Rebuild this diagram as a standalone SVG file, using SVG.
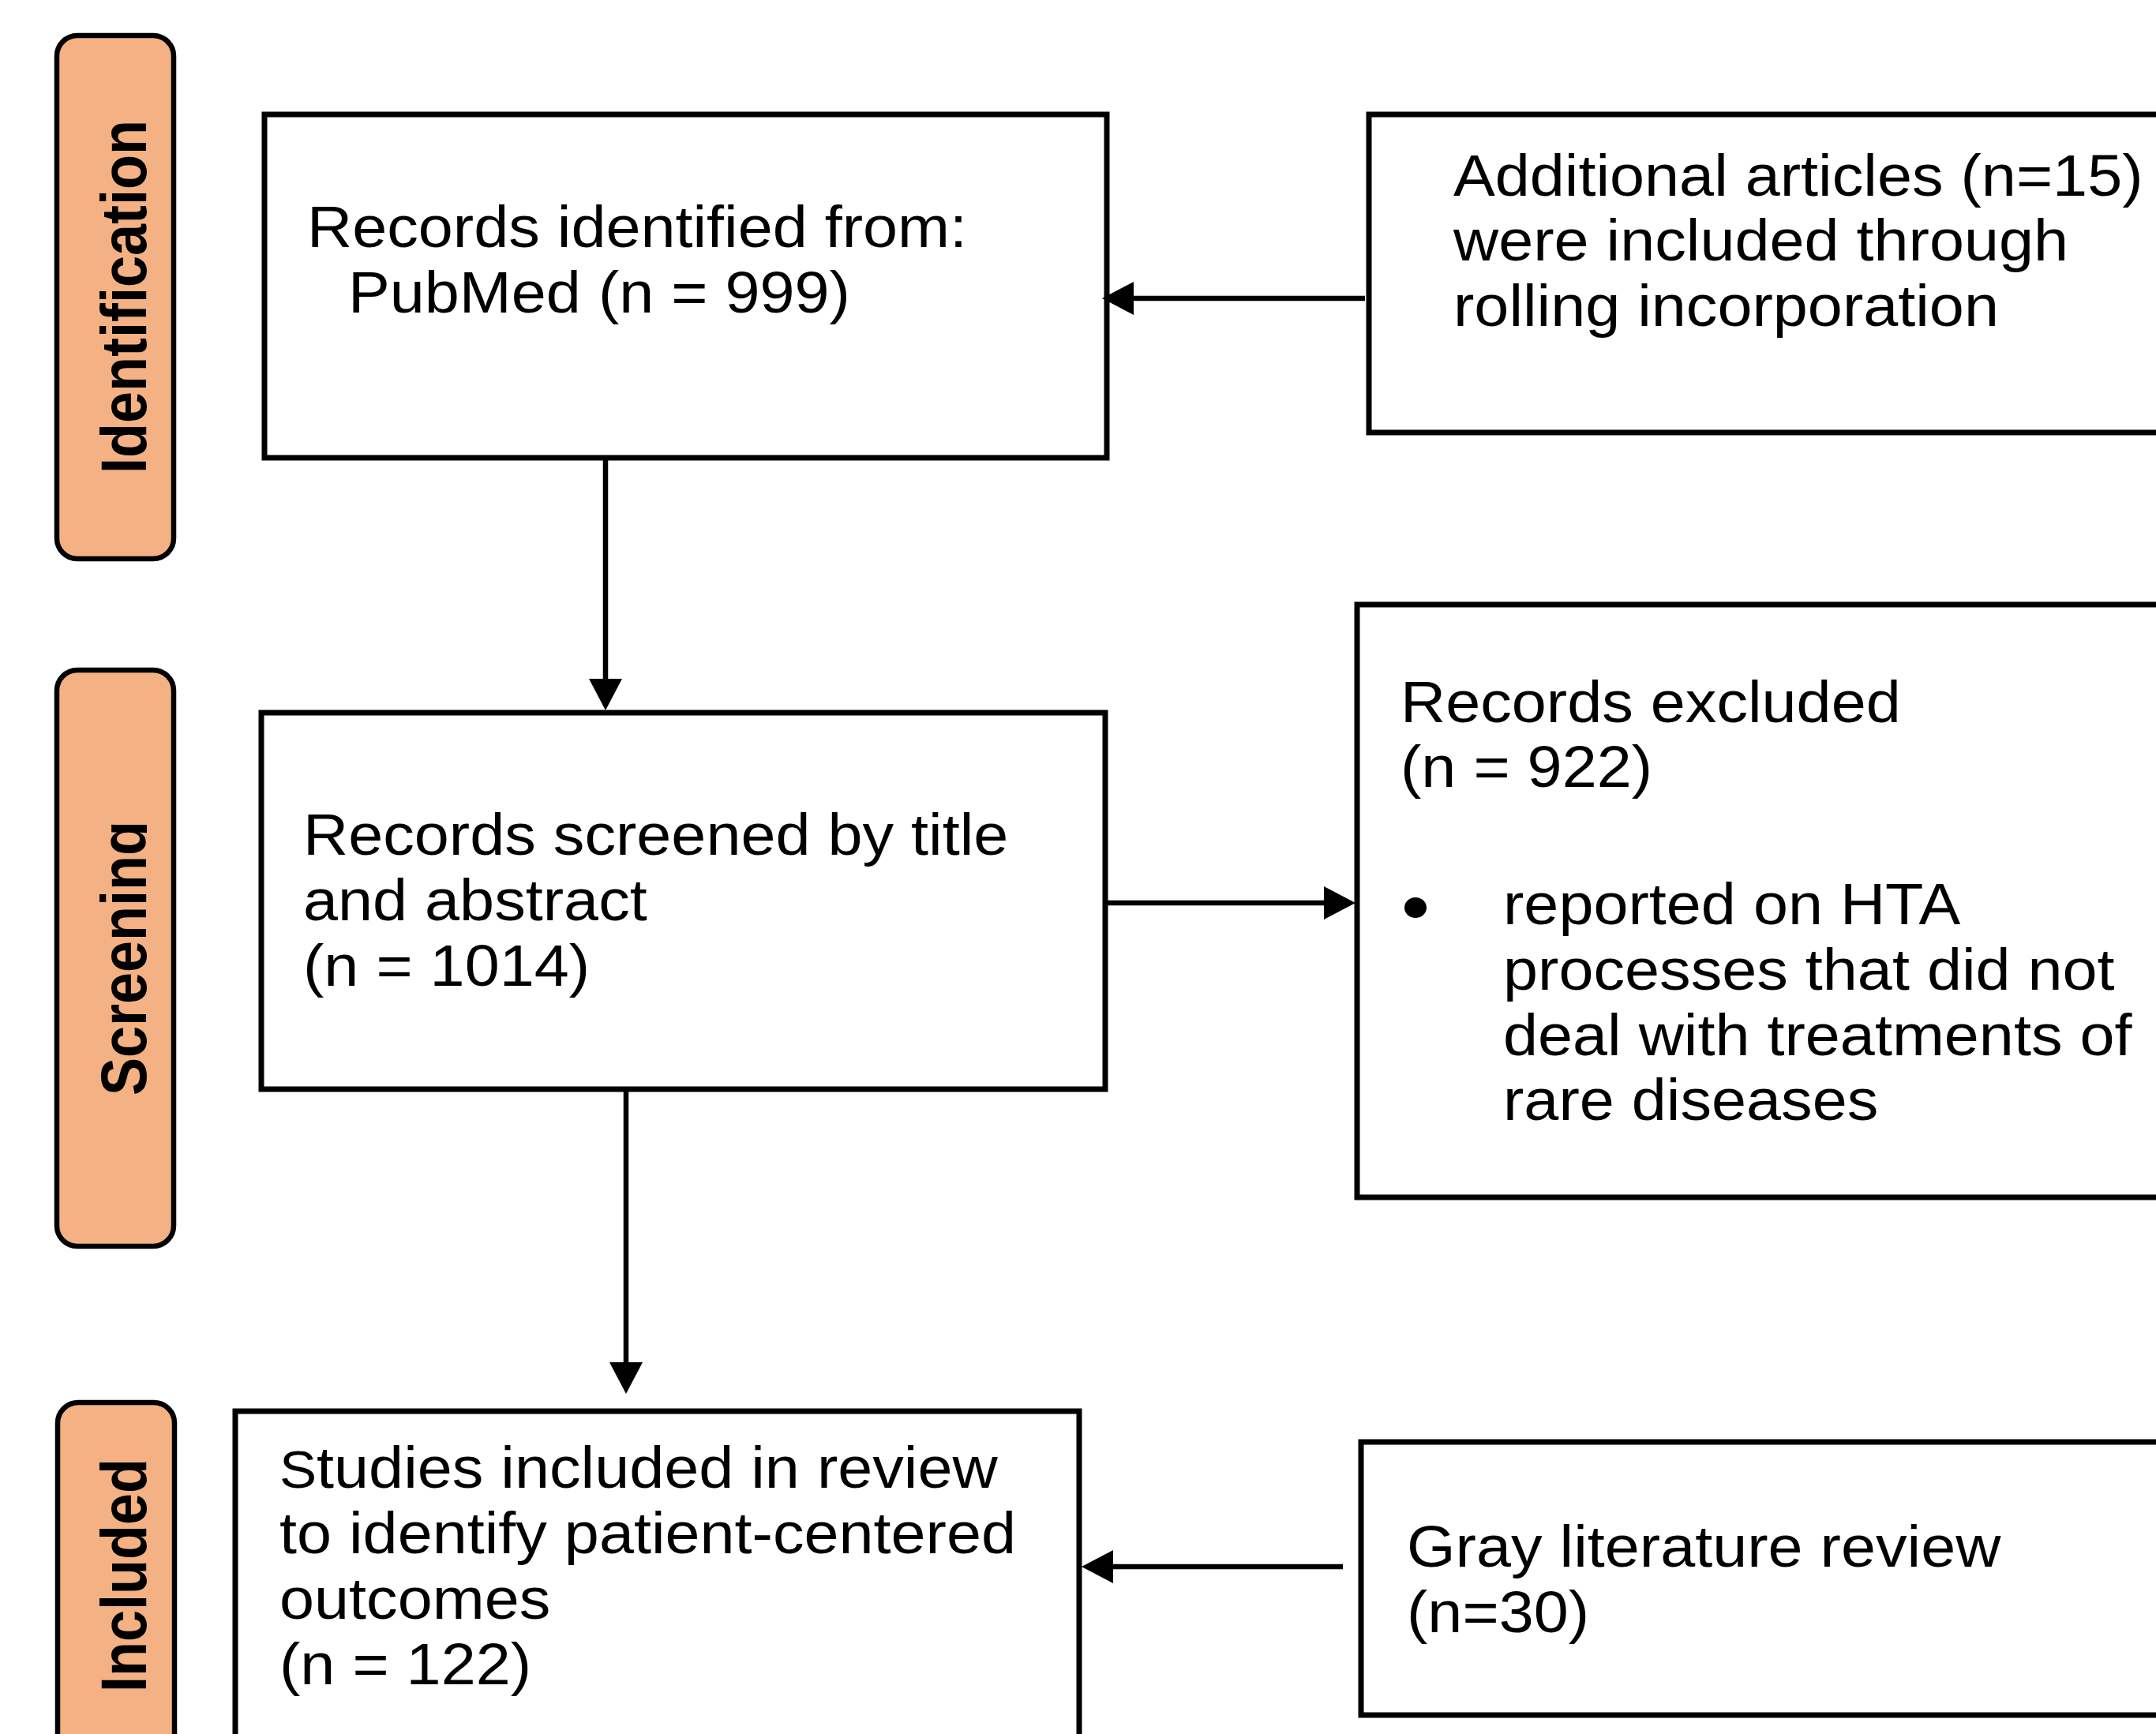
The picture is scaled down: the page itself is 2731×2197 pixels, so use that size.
<svg xmlns="http://www.w3.org/2000/svg" width="2731" height="2197" viewBox="0 0 2731 2197">
<style>
  .box { fill: #ffffff; stroke: #000000; stroke-width: 7; }
  .pill { fill: #F4B183; stroke: #000000; stroke-width: 6.5; }
  .t { font-family: "Liberation Sans", Arial, sans-serif; font-size: 74px; fill: #000000; }
  .v { font-family: "Liberation Sans", Arial, sans-serif; font-size: 72px; font-weight: bold; fill: #000000; text-anchor: middle; }
  .conn { fill: none; stroke: #000000; stroke-width: 6.5; marker-end: url(#arrow); }
</style>
<defs>
  <marker id="arrow" markerUnits="userSpaceOnUse" markerWidth="40" markerHeight="42" viewBox="0 0 40 42" refX="0" refY="21" orient="auto">
    <path d="M0,0 L40,21 L0,42 Z" fill="#000000"/>
  </marker>
  <clipPath id="clipScreen">
    <rect x="0" y="800" width="186" height="800"/>
  </clipPath>
</defs>
<rect width="2731" height="2197" fill="#ffffff"/>

<g id="phase-identification">
  <rect class="pill" x="72" y="45" width="148" height="663" rx="26" ry="26"/>
  <text class="v" transform="translate(185,376) rotate(-90) scale(1,1.12)" x="0" y="0">Identification</text>
</g>
<g id="phase-screening">
  <rect class="pill" x="72" y="849" width="148" height="730" rx="26" ry="26"/>
  <g clip-path="url(#clipScreen)">
    <text class="v" transform="translate(185,1214) rotate(-90) scale(1,1.12)" x="0" y="0">Screening</text>
  </g>
</g>
<g id="phase-included">
  <rect class="pill" x="73" y="1777" width="148" height="520" rx="26" ry="26"/>
  <text class="v" transform="translate(185,1996) rotate(-90) scale(1,1.12)" x="0" y="0">Included</text>
</g>

<g id="node-identified">
  <rect class="box" x="335" y="145" width="1067" height="435"/>
  <text class="t" transform="translate(389,313) scale(1.07,1)" x="0" y="0">Records identified from:</text>
  <text class="t" transform="translate(441,396) scale(1.07,1)" x="0" y="0">PubMed (n = 999)</text>
</g>

<g id="node-additional">
  <rect class="box" x="1734" y="145" width="1030" height="403"/>
  <text class="t" transform="translate(1841,248) scale(1.07,1)">
    <tspan x="0" y="0">Additional articles (n=15)</tspan>
    <tspan x="0" y="82">were included through</tspan>
    <tspan x="0" y="165">rolling incorporation</tspan>
  </text>
</g>

<g id="node-screened">
  <rect class="box" x="331" y="903" width="1069" height="477"/>
  <text class="t" transform="translate(384,1083) scale(1.07,1)">
    <tspan x="0" y="0">Records screened by title</tspan>
    <tspan x="0" y="83">and abstract</tspan>
    <tspan x="0" y="166">(n = 1014)</tspan>
  </text>
</g>

<g id="node-excluded">
  <rect class="box" x="1719" y="766" width="1045" height="751"/>
  <text class="t" transform="translate(1774,915) scale(1.07,1)">
    <tspan x="0" y="0">Records excluded</tspan>
    <tspan x="0" y="82">(n = 922)</tspan>
  </text>
  <ellipse cx="1793" cy="1150" rx="14" ry="13" fill="#000000"/>
  <text class="t" transform="translate(1904,1171) scale(1.07,1)">
    <tspan x="0" y="0">reported on HTA</tspan>
    <tspan x="0" y="83">processes that did not</tspan>
    <tspan x="0" y="166">deal with treatments of</tspan>
    <tspan x="0" y="248">rare diseases</tspan>
  </text>
</g>

<g id="node-included">
  <rect class="box" x="298" y="1788" width="1069" height="500"/>
  <text class="t" transform="translate(354,1885) scale(1.07,1)">
    <tspan x="0" y="0"><tspan font-size="66">S</tspan>tudies included in review</tspan>
    <tspan x="0" y="83">to identify patient-centered</tspan>
    <tspan x="0" y="166">outcomes</tspan>
    <tspan x="0" y="249">(n = 122)</tspan>
  </text>
</g>

<g id="node-gray">
  <rect class="box" x="1724" y="1827" width="1040" height="346"/>
  <text class="t" transform="translate(1782,1985) scale(1.07,1)">
    <tspan x="0" y="0">Gray literature review</tspan>
    <tspan x="0" y="83">(n=30)</tspan>
  </text>
</g>

<g id="connectors">
  <path class="conn" d="M1729,378 L1436,378"/>
  <path class="conn" d="M767,580 L767,860"/>
  <path class="conn" d="M1400,1144 L1677,1144"/>
  <path class="conn" d="M793,1380 L793,1726"/>
  <path class="conn" d="M1701,1985 L1410,1985"/>
</g>
</svg>
